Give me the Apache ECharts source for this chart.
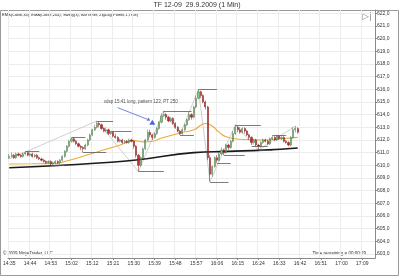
<!DOCTYPE html>
<html><head><meta charset="utf-8">
<script src="https://cdn.jsdelivr.net/npm/echarts@6/dist/echarts.min.js"></script>
<style>html,body{margin:0;padding:0;background:#fff}#c{width:400px;height:277px}</style>
</head><body><div id="c"></div>
<script>
const chartTitle = 'TF 12-09  29.9.2009 (1 Min)';
const indicatorText = 'EMA(Close,34), EMA(Close,204), Swing(3), BarTimer, ZigZag(Points,1,True)';
const copyrightText = '\u00a9 2009 NinjaTrader, LLC';
const timerText = 'Time remaining = 00:00:29';
const noteText = 'vdsp 15:41 long, pattern 123, PT 250';

// category axis: 1-minute bars from 14:35, one minute missing in the feed
const skippedMinute = '15:07';
const categoryCount = 159;
const categories = [];
(function(){ let h = 14, m = 35;
  while (categories.length < categoryCount) {
    const t = h + ':' + String(m).padStart(2, '0');
    if (t !== skippedMinute) categories.push(t);
    m++; if (m === 60) { m = 0; h++; }
  }})();

const yTicks = [603,604,605,606,607,608,609,610,611,612,613,614,615,616,617,618,619,620,621,622];

// [open, close, low, high]
const bars = [
[610.6,610.7,610.5,610.9],[610.7,610.8,610.6,611.0],[610.8,610.6,610.5,610.9],[610.6,610.9,610.5,611.0],
[610.9,610.8,610.7,611.0],[610.8,610.7,610.6,610.9],[610.7,610.9,610.6,611.0],[610.9,611.0,610.8,611.1],
[611.0,610.8,610.7,611.1],[610.8,610.9,610.7,611.0],[610.9,610.7,610.6,611.0],[610.7,610.8,610.6,610.9],
[610.8,610.6,610.5,610.9],[610.6,610.5,610.4,610.7],[610.5,610.4,610.3,610.6],[610.4,610.3,610.2,610.5],
[610.3,610.2,610.1,610.4],[610.2,610.3,610.1,610.4],[610.3,610.1,610.0,610.4],[610.1,610.2,610.0,610.3],
[610.2,610.3,610.1,610.4],[610.3,610.2,610.1,610.4],[610.2,610.4,610.1,610.5],[610.4,610.7,610.3,610.8],
[610.7,611.1,610.6,611.2],[611.1,611.5,611.0,611.6],[611.5,611.9,611.4,612.0],[611.9,612.1,611.8,612.2],
[612.1,611.9,611.8,612.2],[611.9,611.7,611.6,612.0],[611.7,611.5,611.4,611.8],[611.5,611.4,611.2,611.6],
[611.4,611.3,611.0,611.5],[611.3,611.6,611.2,611.7],[611.6,612.0,611.5,612.1],[612.0,612.4,611.9,612.5],
[612.4,612.8,612.3,612.9],[612.8,613.0,612.7,613.2],[613.0,613.3,612.9,613.5],[613.3,613.2,613.0,613.4],
[613.2,612.9,612.8,613.3],[612.9,612.7,612.6,613.0],[612.7,612.8,612.6,613.0],[612.8,612.5,612.4,612.9],
[612.5,612.6,612.4,612.7],[612.6,612.3,612.2,612.7],[612.3,612.2,612.1,612.5],[612.2,611.9,611.8,612.3],
[611.9,612.0,611.8,612.1],[612.0,611.8,611.7,612.1],[611.8,611.9,611.7,612.0],[611.9,611.8,611.7,612.0],
[611.8,612.0,611.7,612.1],[612.0,611.9,611.8,612.1],[611.9,611.5,611.3,612.0],[611.5,610.8,610.6,611.6],
[610.8,610.0,609.5,610.9],[610.0,610.6,609.9,610.7],[610.6,611.3,610.5,611.4],[611.3,612.0,611.2,612.1],
[612.0,612.6,611.9,612.8],[612.6,612.4,612.2,612.8],[612.4,612.2,612.0,612.5],[612.2,612.5,612.1,612.6],
[612.5,612.9,612.4,613.0],[612.9,613.4,612.8,613.5],[613.4,613.9,613.3,614.1],[613.9,614.0,613.8,614.3],
[614.0,613.8,613.6,614.1],[613.8,613.5,613.4,613.9],[613.5,613.7,613.4,613.8],[613.7,613.3,613.2,613.8],
[613.3,613.0,612.9,613.4],[613.0,612.7,612.6,613.1],[612.7,612.5,612.4,612.8],[612.5,612.8,612.4,612.9],
[612.8,613.2,612.7,613.3],[613.2,613.6,613.1,613.7],[613.6,614.0,613.5,614.2],[614.0,613.8,613.6,614.1],
[613.8,614.6,613.7,614.7],[614.6,615.3,614.5,615.5],[615.3,615.8,615.2,616.0],[615.8,615.5,615.3,615.9],
[615.5,615.0,614.9,615.6],[615.0,614.6,614.4,615.1],[614.6,610.6,610.4,614.7],[610.6,609.3,608.7,610.8],
[609.3,609.9,609.1,610.0],[609.9,610.6,609.8,610.7],[610.6,610.4,610.2,610.8],[610.4,610.9,610.3,611.0],
[610.9,611.2,610.8,611.4],[611.2,611.0,610.8,611.3],[611.0,611.6,610.9,611.7],[611.6,611.4,611.2,611.7],
[611.4,611.9,611.3,612.0],[611.9,612.5,611.8,612.7],[612.5,613.0,612.4,613.2],[613.0,612.8,612.6,613.1],
[612.8,612.6,612.5,613.0],[612.6,612.9,612.5,613.0],[612.9,612.7,612.5,613.0],[612.7,612.4,612.3,612.8],
[612.4,612.2,612.0,612.5],[612.2,611.8,611.6,612.3],[611.8,612.0,611.7,612.1],[612.0,611.6,611.5,612.1],
[611.6,611.5,611.2,611.7],[611.5,611.8,611.4,611.9],[611.8,612.0,611.7,612.1],[612.0,611.9,611.8,612.1],
[611.9,611.7,611.6,612.0],[611.7,612.1,611.6,612.2],[612.1,612.2,612.0,612.3],[612.2,612.0,611.9,612.3],
[612.0,612.3,611.9,612.4],[612.3,612.1,612.0,612.4],[612.1,612.2,612.0,612.3],[612.2,611.9,611.8,612.3],
[611.9,611.8,611.7,612.0],[611.8,611.6,611.5,611.9],[611.6,612.2,611.5,612.3],[612.2,612.8,612.1,613.0],
[612.8,612.9,612.6,613.1],[612.9,612.6,612.5,613.0]
];

// EMA readings [bar index, value]
const ema34 = [[0,610.1],[10,610.12],[20,610.15],[24,610.3],[30,610.6],[38,611.05],[48,611.6],[54,611.95],
  [58,611.85],[62,611.9],[66,612.15],[74,612.55],[80,612.8],[85,613.3],[88,613.1],[91,612.6],[94,612.25],
  [100,612.05],[110,612.0],[118,612.1],[125,612.2]];
const ema204 = [[0,609.8],[25,610.02],[55,610.42],[80,611.0],[95,611.1],[110,611.2],[125,611.37]];

// Swing lines [start index, end index, price]
const swings = [[7,13,611.1],[18,24,610.0],[27,33,612.2],[32,42,611.0],[38,45,613.5],[44,53,612.7],
  [56,67,609.5],[67,79,614.3],[74,80,612.4],[82,90,616.0],[87,95,608.7],[90,96,610.2],[93,102,610.8],
  [98,109,613.2],[105,112,611.5],[108,114,611.2],[114,120,612.4]];

// ZigZag pivots [index, price]
const zigzag = [[0,610.5],[38,613.5],[56,609.5],[67,614.3],[74,612.4],[82,616.0],[87,608.7],[98,613.2],[108,611.2],[124,613.1]];

const signal = [[62,613.4]];
const notePoint = [[57,615.05]];
const arrowFrom = [47,614.55];
const arrowTo = [61,613.55];

const FONT = 'Liberation Sans, Arial, sans-serif';
const fmt = v => v.toFixed(1).replace('.', ',');

const chart = echarts.init(document.getElementById('c'), null, {renderer:'canvas'});
chart.setOption({
  animation: false,
  backgroundColor: '#fff',
  grid: {left: 3.8, right: 25, top: 10, bottom: 19, show: false},
  xAxis: {
    type: 'category', data: categories, boundaryGap: true,
    axisLine: {show: true, lineStyle: {color: '#8a8a8a', width: 1}},
    axisTick: {show: true, interval: 8, alignWithLabel: true, length: 2, lineStyle: {color: '#8a8a8a'}},
    axisLabel: {interval: 8, fontSize: 5, color: '#333', margin: 3, fontFamily: FONT},
    splitLine: {show: true, interval: 8, lineStyle: {color: '#ececec', width: 1}}
  },
  yAxis: {
    type: 'value', position: 'right', min: 602.68, max: 622.26, scale: true,
    axisLine: {show: true, lineStyle: {color: '#8a8a8a', width: 1}},
    axisTick: {show: true, length: 2, customValues: yTicks, lineStyle: {color: '#8a8a8a'}},
    axisLabel: {customValues: yTicks, formatter: fmt, fontSize: 5, color: '#333', margin: 2, fontFamily: FONT},
    splitLine: {show: true, lineStyle: {color: '#ececec', width: 1}}
  },
  series: [
    {
      type: 'line', data: zigzag, symbol: 'none', silent: true,
      lineStyle: {color: '#c4c4c4', width: 0.8}, z: 1,
      markLine: {silent: true, symbol: ['none','none'], label: {show: false},
        lineStyle: {color: '#5a5a5a', width: 0.8, type: 'solid'},
        data: swings.map(s => [{coord: [s[0], s[2]]}, {coord: [s[1], s[2]]}])}
    },
    {
      type: 'line', data: ema204, symbol: 'none', smooth: true, silent: true,
      lineStyle: {color: '#1a1a1a', width: 1.6}, z: 2,
      markLine: {silent: true, symbol: ['none','none'], lineStyle: {opacity: 0},
        label: {show: true, position: 'end', distance: 2, formatter: p => fmt(p.value), fontSize: 5,
          color: '#fff', backgroundColor: '#111', padding: [1,1,0,1], borderRadius: 1, fontFamily: FONT},
        data: [{yAxis: ema204[ema204.length-1][1]}]}
    },
    {
      type: 'line', data: ema34, symbol: 'none', smooth: true, silent: true,
      lineStyle: {color: '#eeaa33', width: 1.1}, z: 3,
      markLine: {silent: true, symbol: ['none','none'], lineStyle: {opacity: 0},
        label: {show: true, position: 'end', distance: 2, formatter: p => fmt(p.value), fontSize: 5,
          color: '#000', backgroundColor: '#eeaa33', padding: [1,1,0,1], borderRadius: 1, fontFamily: FONT},
        data: [{yAxis: ema34[ema34.length-1][1]}]}
    },
    {
      type: 'candlestick', data: bars, barWidth: 1.6, z: 4,
      itemStyle: {color: '#7acc7a', color0: '#c42a2a', borderColor: '#4c6a4c', borderColor0: '#7a1818', borderWidth: 0.5}
    },
    {
      type: 'scatter', data: signal, symbol: 'triangle', symbolSize: [6,5], z: 5,
      itemStyle: {color: '#1f3fd6'}
    },
    {
      type: 'scatter', data: notePoint, symbolSize: 1, z: 6,
      itemStyle: {color: 'transparent'},
      label: {show: true, position: 'inside', formatter: noteText, fontSize: 4.5, color: '#222', fontFamily: FONT},
      markLine: {silent: true, symbol: ['none','arrow'], symbolSize: 3, label: {show: false},
        lineStyle: {color: '#5566cc', width: 0.8, type: 'solid'},
        data: [[{coord: arrowFrom}, {coord: arrowTo}]]}
    }
  ],
  graphic: [
    {type: 'rect', shape: {x: 0.5, y: 10.5, width: 398, height: 265}, style: {fill: 'none', stroke: '#9a9a9a', lineWidth: 1}, z: 0, silent: true},
    {type: 'text', x: 197, y: 5, style: {text: chartTitle, fontSize: 7, fill: '#333', align: 'center', verticalAlign: 'middle', fontFamily: FONT}},
    {type: 'text', x: 2, y: 15, style: {text: indicatorText, fontSize: 4, fill: '#222', align: 'left', verticalAlign: 'middle', fontFamily: FONT}},
    {type: 'text', x: 367, y: 17, style: {text: '\u25B7|', fontSize: 9, fill: '#888', align: 'center', verticalAlign: 'middle', fontFamily: 'DejaVu Sans'}},
    {type: 'text', x: 3, y: 254, style: {text: copyrightText, fontSize: 4.5, fill: '#333', align: 'left', verticalAlign: 'middle', fontFamily: FONT}},
    {type: 'text', x: 366, y: 254, style: {text: timerText, fontSize: 4.5, fill: '#333', align: 'right', verticalAlign: 'middle', fontFamily: FONT}}
  ]
});
</script></body></html>
